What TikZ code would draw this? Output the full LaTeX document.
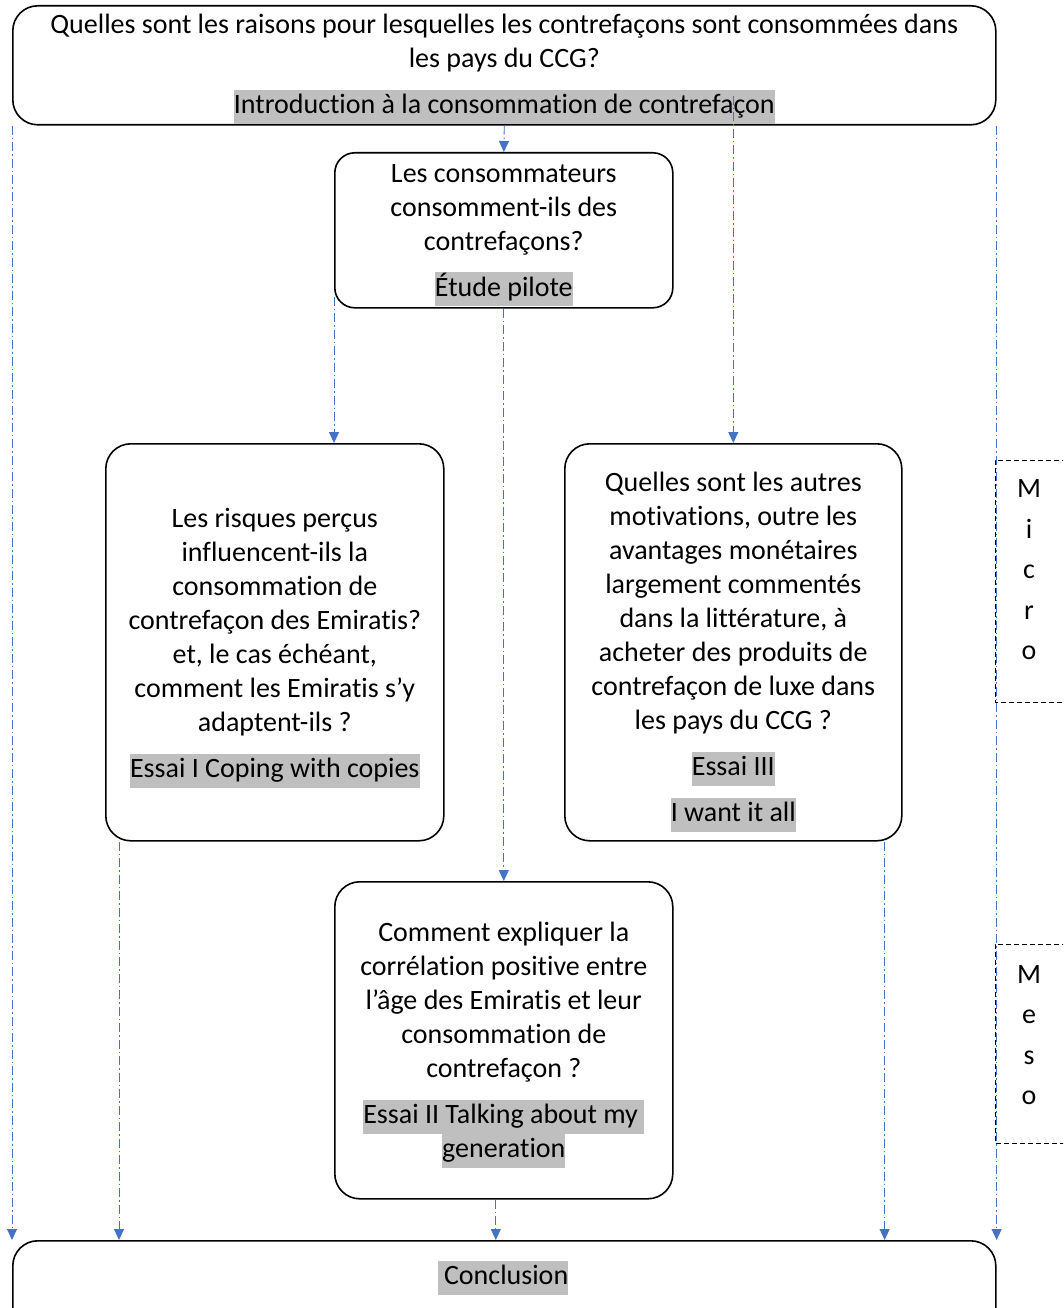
\documentclass[tikz,border=0pt]{standalone}
\usepackage{fontspec}
\setmainfont[Ligatures=NoCommon]{Carlito}
\usetikzlibrary{arrows.meta,calc}
\definecolor{hlgray}{HTML}{BFBFBF}
\definecolor{flowblue}{HTML}{4472C4}
\newcommand{\hlbox}[1]{{\setlength{\fboxsep}{0pt}\colorbox{hlgray}{\strut #1}}}
\begin{document}
\begin{tikzpicture}[x=1pt,y=-1pt,
  box/.style={draw=black, line width=1.6pt, rounded corners=#1, inner sep=0pt},
  box/.default=25pt,
  txt/.style={align=center, font=\fontsize{28}{34}\selectfont, inner sep=0pt},
  flow/.style={draw=flowblue, line width=0.9pt, dash pattern=on 9pt off 3pt on 1.5pt off 3pt, -{Triangle[width=10pt,length=11pt]}},
  lvl/.style={align=center, font=\fontsize{28}{40.5}\selectfont},
  dashedbox/.style={draw=black, line width=1pt, dash pattern=on 5pt off 3pt}
]
\useasboundingbox (0,0) rectangle (1063,1308);
\clip (0,0) rectangle (1063,1308);

% boxes
\node[box, minimum width=983pt, minimum height=119pt, anchor=north west] (q) at (12,5) {};
\node[box=20pt, minimum width=338pt, minimum height=155pt, anchor=north west] (pilot) at (334,152) {};
\node[box, minimum width=338pt, minimum height=397pt, anchor=north west] (left) at (105,443) {};
\node[box, minimum width=337pt, minimum height=397pt, anchor=north west] (right) at (564,443) {};
\node[box, minimum width=338pt, minimum height=317pt, anchor=north west] (ess2) at (334,881) {};
\node[box, minimum width=983pt, minimum height=140pt, anchor=north west] (concl) at (12,1240) {};

% texts
\node[txt] (q-t) at ($(q.center)+(0,3.5)$)
 {Quelles sont les raisons pour lesquelles les contrefaçons sont consommées dans\\les pays du CCG?\\[12pt]\hlbox{Introduction à la consommation de contrefaçon}};
\node[txt] (pilot-t) at ($(pilot.center)+(0,5)$)
 {Les consommateurs\\consomment-ils des\\contrefaçons?\\[12pt]\hlbox{Étude pilote}};
\node[txt] (left-t) at ($(left.center)+(0,6)$)
 {Les risques perçus\\influencent-ils la\\consommation de\\contrefaçon des Emiratis?\\et, le cas échéant,\\comment les Emiratis s’y\\adaptent-ils ?\\[12pt]\hlbox{Essai I Coping with copies}};
\node[txt] (right-t) at ($(right.center)+(0,10)$)
 {Quelles sont les autres\\motivations, outre les\\avantages monétaires\\largement commentés\\dans la littérature, à\\acheter des produits de\\contrefaçon de luxe dans\\les pays du CCG ?\\[12pt]\hlbox{Essai III}\\[12pt]\hlbox{I want it all}};
\node[txt] (ess2-t) at ($(ess2.center)+(0,5)$)
 {Comment expliquer la\\corrélation positive entre\\l'âge des Emiratis et leur\\consommation de\\contrefaçon ?\\[12pt]\hlbox{Essai II Talking about my\ }\\\hlbox{generation}};
\node[txt] (concl-t) at (503,1278) {\hlbox{\ Conclusion}};

% level boxes
\draw[dashedbox] (1075,460) -| (995,702) -- (1075,702);
\node[lvl] (micro) at (1029,570) {M\\i\\c\\r\\o};
\draw[dashedbox] (1075,944) -| (995,1143) -- (1075,1143);
\node[lvl] (meso) at (1029,1035) {M\\e\\s\\o};

% connectors
\draw[flow] (q.south) -- (pilot.north);
\draw[flow] (q.south west) -- (concl.north west);
\draw[flow] (q.south east) -- (concl.north east);
\coordinate (qr) at ($(right.north |- q.south)+(0,-30)$);
\draw[flow] (qr) -- (right.north);
\coordinate (pl) at ($(pilot.south west)+(0,-12)$);
\draw[flow] (pl) -- (pl |- left.north);
\draw[flow] (pilot.south) -- (ess2.north);
\coordinate (lo) at ($(left.south west)+(14,0)$);
\draw[flow] (lo) -- (lo |- concl.north);
\coordinate (ro) at ($(right.south east)+(-18,0)$);
\draw[flow] (ro) -- (ro |- concl.north);
\coordinate (eo) at ($(ess2.south)+(-8,0)$);
\draw[flow] (eo) -- (eo |- concl.north);
\end{tikzpicture}
\end{document}
